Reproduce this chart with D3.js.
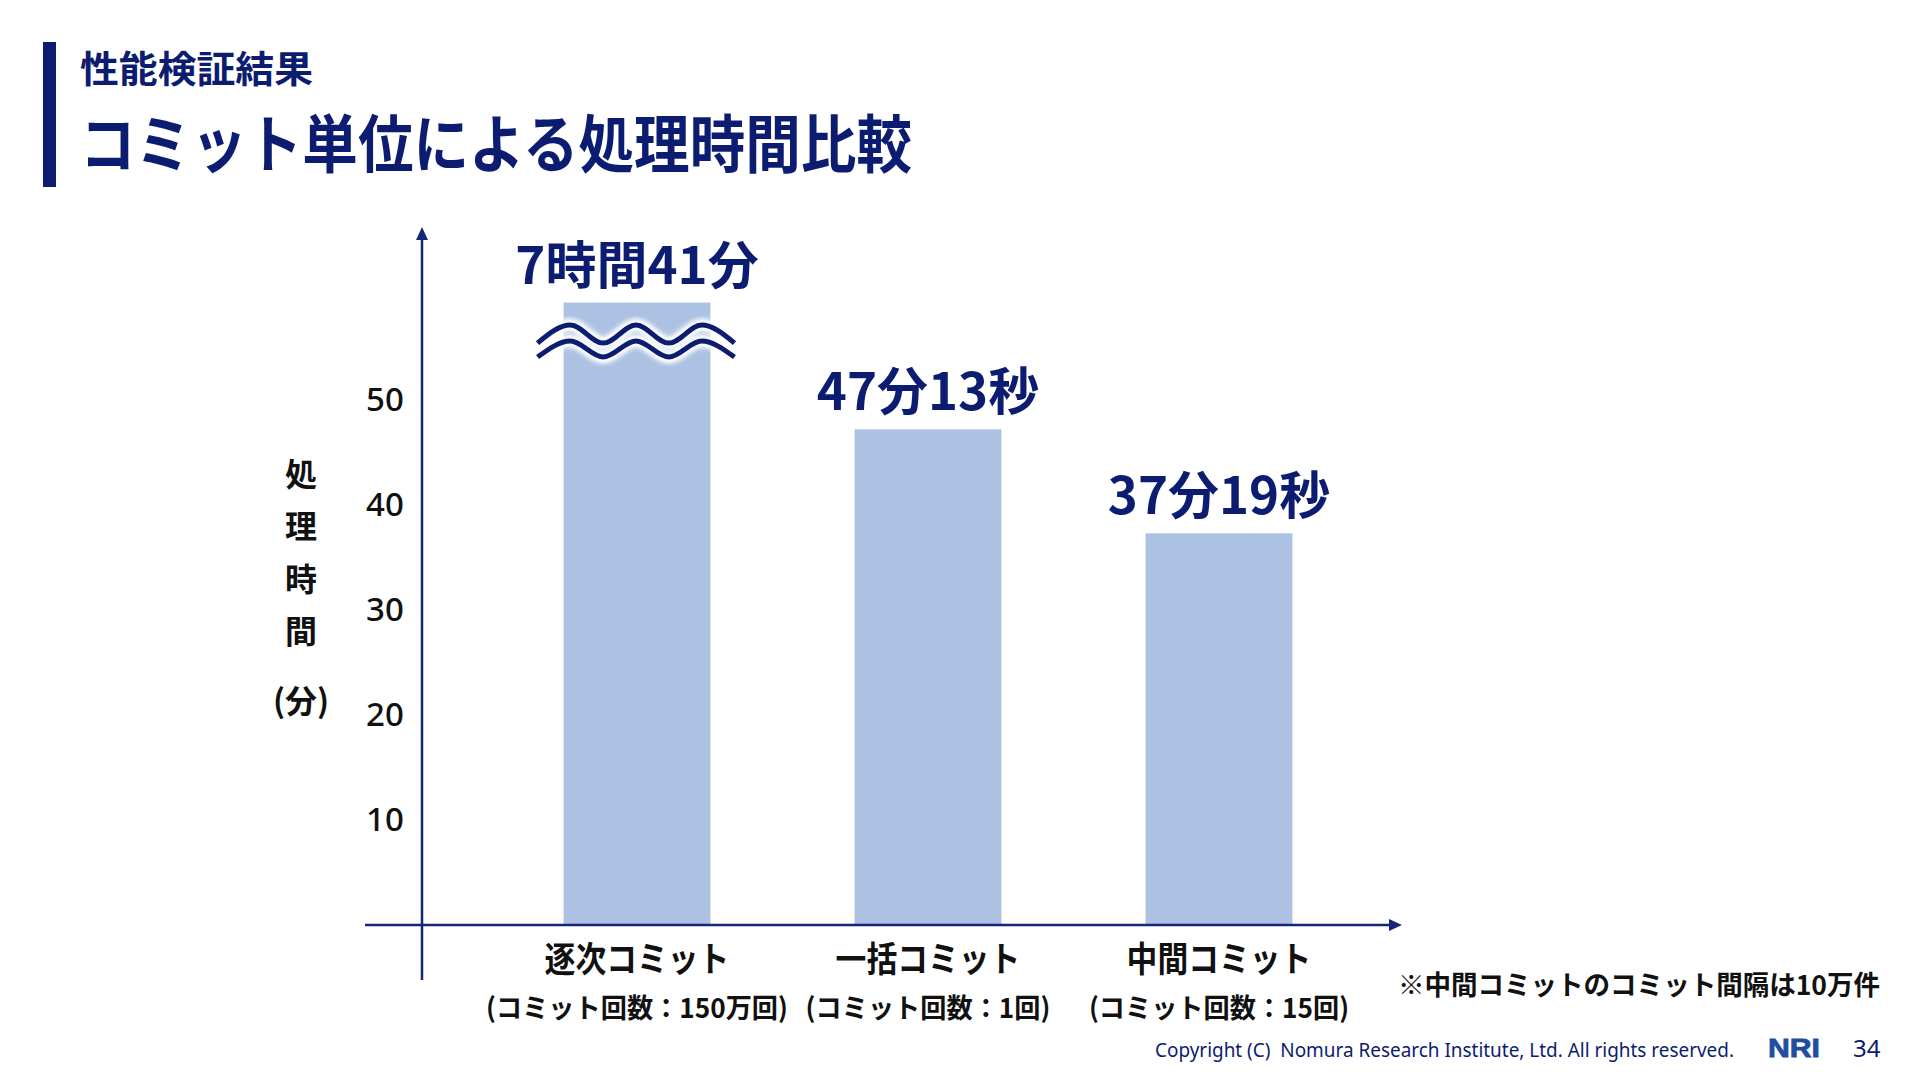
<!DOCTYPE html>
<html><head><meta charset="utf-8">
<script src="https://cdn.jsdelivr.net/npm/d3@7"></script>
<style>body{margin:0;background:#fff;} svg{display:block;}</style>
</head><body>
<svg id="c" width="1920" height="1080"></svg>
<script>
// ---- data ----
const categories = ["逐次コミット", "一括コミット", "中間コミット"];
const subLabels = ["(コミット回数：150万回)", "(コミット回数：1回)", "(コミット回数：15回)"];
const minutes = [461.0, 47.22, 37.32];           // 7h41m, 47m13s, 37m19s
const valueLabels = ["7時間41分", "47分13秒", "37分19秒"];
const yTicks = [10, 20, 30, 40, 50];
const axisTitleChars = ["処", "理", "時", "間"];
const axisTitleUnit = "(分)";
const breakCap = 59.3;     // visible height (minutes) of the broken bar
const yMaxShown = 66.5;    // top of the y axis arrow

// ---- style ----
const NAVY = "#0c1c70";
const AXIS = "#142678";
const BAR = "#adc2e2";
const CJK = "'Noto Sans CJK JP','Noto Sans',sans-serif";

const svg = d3.select("#c");
const defs = svg.append("defs");
const f = defs.append("filter").attr("id", "glow").attr("x", "-20%").attr("y", "-50%").attr("width", "140%").attr("height", "200%");
f.append("feGaussianBlur").attr("stdDeviation", 2.2);

function fit(sel, w) {
  sel.attr("textLength", w).attr("lengthAdjust", "spacingAndGlyphs");
}

// ---- header ----
svg.append("rect").attr("x", 43).attr("y", 42).attr("width", 13).attr("height", 145).attr("fill", NAVY);
svg.append("text").attr("x", 80).attr("y", 83).attr("font-family", CJK).attr("font-weight", 700)
  .attr("font-size", 37).attr("fill", NAVY).text("性能検証結果").call(fit, 233);
svg.append("text").attr("x", 80).attr("y", 167).attr("font-family", CJK).attr("font-weight", 700)
  .attr("font-size", 63).attr("fill", NAVY).text("コミット単位による処理時間比較").call(fit, 832);

// ---- scales ----
const x = d3.scaleBand().domain(categories).range([491.5, 1364.5]).paddingInner(0.495).paddingOuter(0.2475);
const y = d3.scaleLinear().domain([0, yMaxShown]).range([925, 227]);
const shown = v => Math.min(v, breakCap);

// ---- bars ----
const g = svg.append("g");
g.selectAll("rect.bar").data(minutes).join("rect").attr("class", "bar")
  .attr("x", (d, i) => x(categories[i])).attr("width", x.bandwidth())
  .attr("y", d => y(shown(d))).attr("height", d => y(0) - y(shown(d)))
  .attr("fill", BAR);

// ---- break waves on the capped bar ----
minutes.forEach((v, i) => {
  if (v <= breakCap) return;
  const x0 = x(categories[i]) - 26, x1 = x(categories[i]) + x.bandwidth() + 24;
  const top = y(breakCap);
  const waves = [{mid: top + 31.5, a: 9}, {mid: top + 46.5, a: 8}];
  const n = 6, step = (x1 - x0) / n;
  const line = d3.line().curve(d3.curveMonotoneX);
  waves.forEach(w => {
    const pts = d3.range(n + 1).map(k => [x0 + k * step, w.mid + (k % 2 === 0 ? w.a : -w.a)]);
    g.append("path").attr("d", line(pts)).attr("fill", "none").attr("stroke", "#fff")
      .attr("stroke-width", 13).attr("filter", "url(#glow)").attr("stroke-linecap", "round");
  });
  waves.forEach(w => {
    const pts = d3.range(n + 1).map(k => [x0 + k * step, w.mid + (k % 2 === 0 ? w.a : -w.a)]);
    g.append("path").attr("d", line(pts)).attr("fill", "none").attr("stroke", NAVY)
      .attr("stroke-width", 5).attr("stroke-linecap", "butt");
  });
});

// ---- value labels ----
g.selectAll("text.val").data(valueLabels).join("text").attr("class", "val")
  .attr("x", (d, i) => x(categories[i]) + x.bandwidth() / 2)
  .attr("y", (d, i) => y(shown(minutes[i])) - 19)
  .attr("text-anchor", "middle").attr("font-family", CJK).attr("font-weight", 700)
  .attr("font-size", 51).attr("fill", NAVY).text(d => d);

// ---- axes ----
const axX = 422;
svg.append("line").attr("x1", axX).attr("x2", axX).attr("y1", 980).attr("y2", y(yMaxShown) + 10)
  .attr("stroke", AXIS).attr("stroke-width", 2.5);
svg.append("path").attr("d", `M${axX},${y(yMaxShown)} L${axX - 6},${y(yMaxShown) + 13} L${axX + 6},${y(yMaxShown) + 13} Z`).attr("fill", AXIS);
const xEnd = 1402;
svg.append("line").attr("x1", 365).attr("x2", xEnd - 10).attr("y1", y(0)).attr("y2", y(0))
  .attr("stroke", AXIS).attr("stroke-width", 2.5);
svg.append("path").attr("d", `M${xEnd},${y(0)} L${xEnd - 13},${y(0) - 6} L${xEnd - 13},${y(0) + 6} Z`).attr("fill", AXIS);

const yAxis = svg.append("g").attr("transform", "translate(366,0)")
  .call(d3.axisLeft(y).tickValues(yTicks).tickSize(0).tickPadding(0));
yAxis.select(".domain").remove();
yAxis.selectAll("text").attr("text-anchor", "start").attr("x", 0)
  .attr("font-family", "'Noto Sans',sans-serif").attr("font-size", 33).attr("font-weight", 500).attr("fill", "#111");

// y axis title (vertical)
svg.append("g").selectAll("text").data(axisTitleChars).join("text")
  .attr("x", 301).attr("y", (d, i) => 474 + i * 52.5).attr("dy", "0.36em")
  .attr("text-anchor", "middle").attr("font-family", CJK).attr("font-weight", 700)
  .attr("font-size", 32).attr("fill", "#111").text(d => d);
svg.append("text").attr("x", 301).attr("y", 701).attr("dy", "0.36em").attr("text-anchor", "middle")
  .attr("font-family", CJK).attr("font-weight", 700).attr("font-size", 32).attr("fill", "#111").text(axisTitleUnit);

// category labels
svg.append("g").selectAll("text").data(categories).join("text")
  .attr("x", d => x(d) + x.bandwidth() / 2).attr("y", 972).attr("text-anchor", "middle")
  .attr("font-family", CJK).attr("font-weight", 700).attr("font-size", 35).attr("fill", "#111")
  .text(d => d).each(function () { d3.select(this).call(fit, this.getComputedTextLength() * 0.88); });
svg.append("g").selectAll("text").data(subLabels).join("text")
  .attr("x", (d, i) => x(categories[i]) + x.bandwidth() / 2).attr("y", 1018).attr("text-anchor", "middle")
  .attr("font-family", CJK).attr("font-weight", 700).attr("font-size", 27).attr("fill", "#111")
  .text(d => d).each(function () { d3.select(this).call(fit, this.getComputedTextLength() * 0.97); });

// footnote
svg.append("text").attr("x", 1398).attr("y", 995).attr("font-family", CJK).attr("font-weight", 700)
  .attr("font-size", 27).attr("fill", "#111").text("※中間コミットのコミット間隔は10万件").call(fit, 482);

// footer
svg.append("text").attr("x", 1155).attr("y", 1057).attr("font-family", "'Noto Sans',sans-serif")
  .attr("font-size", 19).attr("fill", NAVY).text("Copyright (C)  Nomura Research Institute, Ltd. All rights reserved.")
  .attr("xml:space", "preserve").call(fit, 579);
svg.append("text").attr("x", 1768).attr("y", 1057).attr("font-family", "'Liberation Sans',Arial,sans-serif")
  .attr("font-weight", 900).attr("font-size", 25).attr("fill", "#1f4ea0")
  .attr("stroke", "#1f4ea0").attr("stroke-width", 0.8).text("NRI").call(fit, 52);
svg.append("text").attr("x", 1853).attr("y", 1057).attr("font-family", "'Noto Sans',sans-serif")
  .attr("font-size", 24).attr("fill", NAVY).text("34");
</script>
</body></html>
